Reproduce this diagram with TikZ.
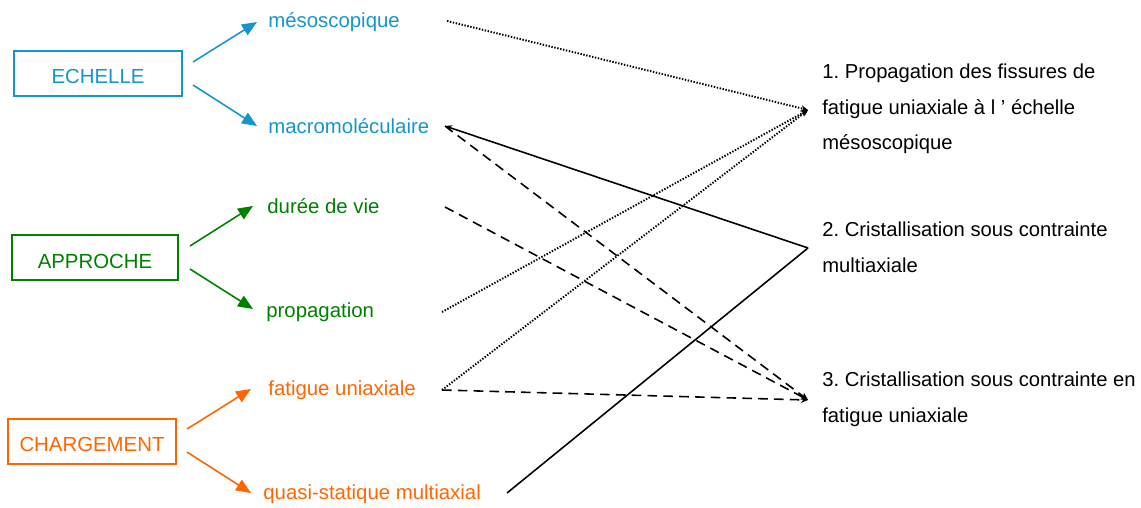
\documentclass[tikz,border=0pt]{standalone}
\usepackage{fontspec}
\setmainfont{Liberation Sans}
\usetikzlibrary{arrows.meta}
\frenchspacing
\definecolor{cblue}{RGB}{20,150,205}
\definecolor{cgreen}{RGB}{0,128,0}
\definecolor{corange}{RGB}{255,102,0}
\tikzset{
  lbl/.style={anchor=base west, inner sep=0pt, font=\fontsize{11.6}{14}\selectfont},
  rtxt/.style={anchor=base west, inner sep=0pt, font=\fontsize{11.5}{14}\selectfont, text=black},
  catbox/.style={draw, line width=0.8pt, inner sep=0pt},
  catarrow/.style={line width=0.9pt, -{Triangle[length=8.5pt,width=7pt]}},
  dotline/.style={line width=1.1pt, dash pattern=on 0.8pt off 0.9pt, -{Stealth[length=4pt,width=3.5pt]}},
  dashline/.style={line width=0.9pt, dash pattern=on 5.5pt off 3.5pt, -{Stealth[length=4pt,width=3.5pt]}},
  solidline/.style={line width=0.9pt}
}
\begin{document}
\begin{tikzpicture}[x=0.02cm,y=-0.02cm]
\useasboundingbox (0,0) rectangle (1141,507);
% category boxes
\draw[catbox, cblue] (14,51) rectangle (182,96);
\node[lbl, text=cblue, anchor=base] (echelle) at (98,83) {ECHELLE};
\draw[catbox, cgreen] (12,235) rectangle (178,280);
\node[lbl, text=cgreen, anchor=base] (approche) at (95,268) {APPROCHE};
\draw[catbox, corange] (8,419) rectangle (176,464);
\node[lbl, text=corange, anchor=base] (chargement) at (92,451) {CHARGEMENT};
% left labels
\node[lbl, text=cblue] (meso) at (268,28) {mésoscopique};
\node[lbl, text=cblue] (macro) at (268,133) {macromoléculaire};
\node[lbl, text=cgreen] (duree) at (267,213) {durée de vie};
\node[lbl, text=cgreen] (prop) at (266,317) {propagation};
\node[lbl, text=corange] (fatig) at (268,395) {fatigue uniaxiale};
\node[lbl, text=corange] (quasi) at (263,499) {quasi-statique multiaxial};
% right texts
\node[rtxt] (r1a) at (822,78) {1. Propagation des fissures de};
\node[rtxt] (r1b) at (822,114) {fatigue uniaxiale à l ’ échelle};
\node[rtxt] (r1c) at (822,149) {mésoscopique};
\node[rtxt] (r2a) at (822,236) {2. Cristallisation sous contrainte};
\node[rtxt] (r2b) at (822,272) {multiaxiale};
\node[rtxt] (r3a) at (822,386) {3. Cristallisation sous contrainte en};
\node[rtxt] (r3b) at (822,422) {fatigue uniaxiale};
% coordinates for connector ends
\coordinate (echA) at (193,62);  \coordinate (echAt) at (257,22);
\coordinate (echB) at (193,85);  \coordinate (echBt) at (257,126);
\coordinate (appA) at (190,246); \coordinate (appAt) at (253,206);
\coordinate (appB) at (190,269); \coordinate (appBt) at (253,309);
\coordinate (chA) at (187,429);  \coordinate (chAt) at (251,389);
\coordinate (chB) at (187,452);  \coordinate (chBt) at (251,493);
\coordinate (mesoE) at (447,21);
\coordinate (macroE) at (445,126);
\coordinate (dureeE) at (445,207);
\coordinate (propE) at (442,312);
\coordinate (fatigE) at (442,390);
\coordinate (quasiE) at (507,493);
\coordinate (t1) at (808,110);
\coordinate (t2) at (808,248);
\coordinate (t3) at (808,400);
% category arrows
\draw[catarrow, cblue] (echA) -- (echAt);
\draw[catarrow, cblue] (echB) -- (echBt);
\draw[catarrow, cgreen] (appA) -- (appAt);
\draw[catarrow, cgreen] (appB) -- (appBt);
\draw[catarrow, corange] (chA) -- (chAt);
\draw[catarrow, corange] (chB) -- (chBt);
% connectors
\draw[dotline] (mesoE) -- (t1);
\draw[dotline] (propE) -- (t1);
\draw[dotline] (fatigE) -- (t1);
\draw[solidline, {Stealth[length=4pt,width=3.5pt]}-] (macroE) -- (t2);
\draw[solidline] (quasiE) -- (t2);
\draw[dashline] (macroE) -- (t3);
\draw[dashline] (dureeE) -- (t3);
\draw[dashline] (fatigE) -- (t3);
\end{tikzpicture}
\end{document}
